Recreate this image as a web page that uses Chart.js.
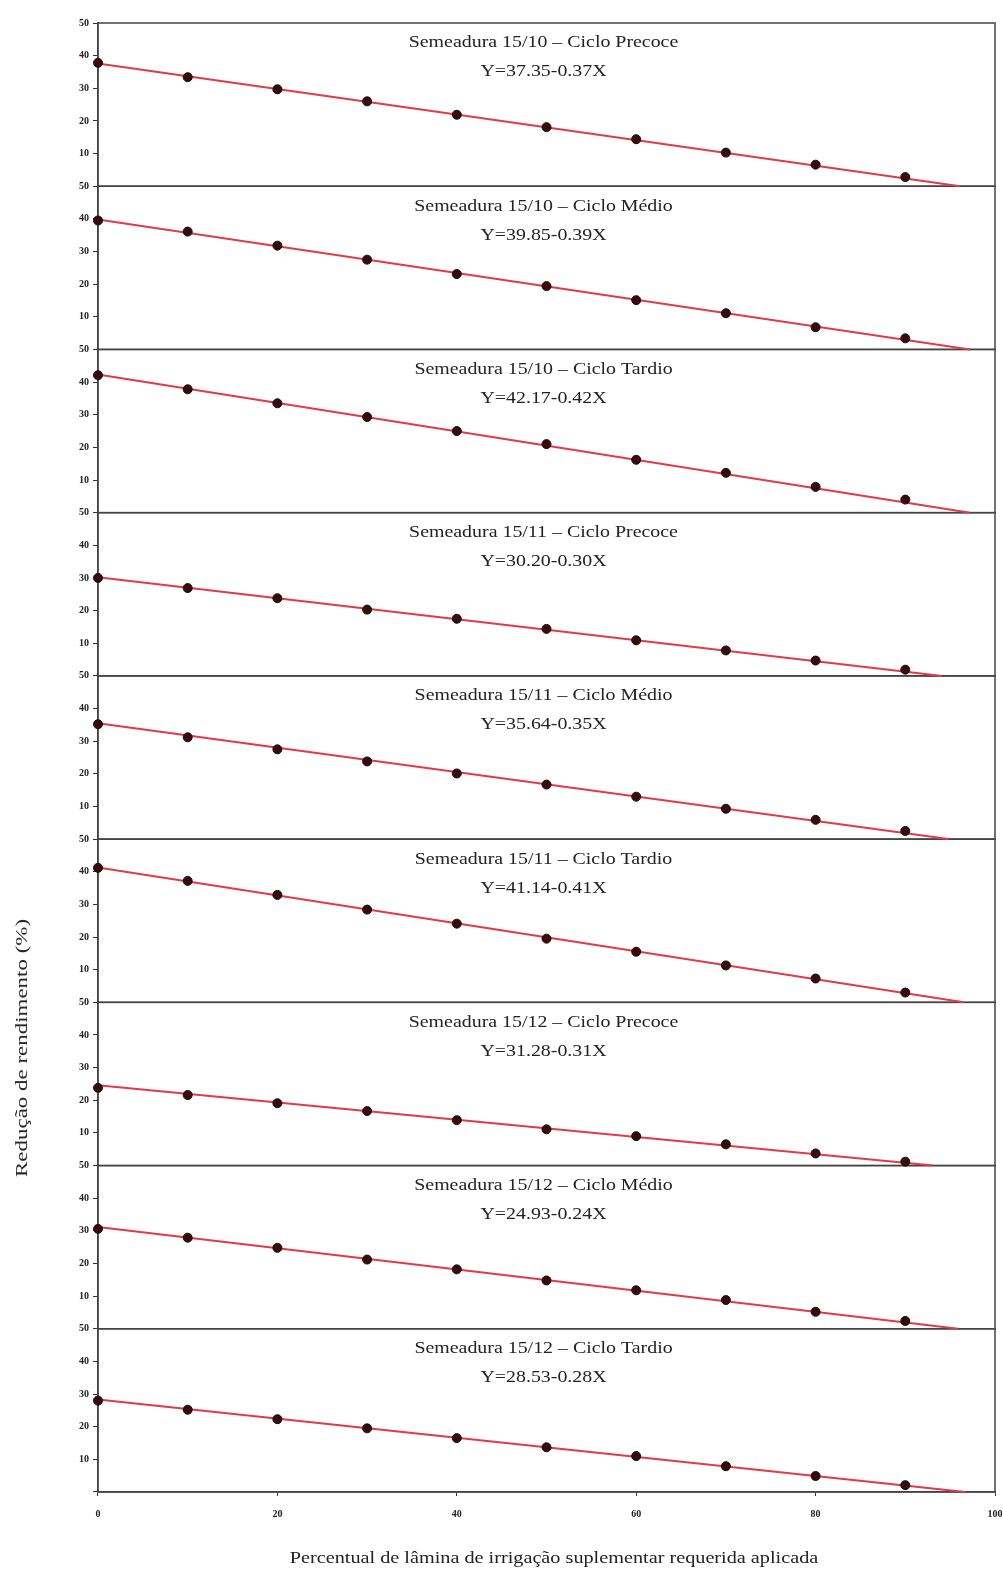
<!DOCTYPE html>
<html>
<head>
<meta charset="utf-8">
<script src="https://cdn.jsdelivr.net/npm/chart.js@4.4.1/dist/chart.umd.min.js"></script>
<style>
  body { margin: 0; background: #fff; }
  #wrap { position: relative; width: 1003px; height: 1573px; }
  .ttl { position: absolute; font-family: "Liberation Serif", serif; font-size: 17px; color: #222; white-space: nowrap; }
  #ytitle { left: 22px; top: 1048px; transform: translate(-50%, -50%) rotate(-90deg) scaleX(1.35); }
  #xtitle { left: 554px; top: 1558px; transform: translate(-50%, -50%) scaleX(1.19); }
</style>
</head>
<body>
<div id="wrap">
  <canvas id="painelChart" width="1003" height="1573"></canvas>
  <div class="ttl" id="ytitle">Redução de rendimento (%)</div>
  <div class="ttl" id="xtitle">Percentual de lâmina de irrigação suplementar requerida aplicada</div>
</div>
<script>
var laminas = [0, 10, 20, 30, 40, 50, 60, 70, 80, 90];
var xTicks = [0, 20, 40, 60, 80, 100];
var yTicks = [0, 10, 20, 30, 40, 50];

var titulos = [
  'Semeadura 15/10 – Ciclo Precoce',
  'Semeadura 15/10 – Ciclo Médio',
  'Semeadura 15/10 – Ciclo Tardio',
  'Semeadura 15/11 – Ciclo Precoce',
  'Semeadura 15/11 – Ciclo Médio',
  'Semeadura 15/11 – Ciclo Tardio',
  'Semeadura 15/12 – Ciclo Precoce',
  'Semeadura 15/12 – Ciclo Médio',
  'Semeadura 15/12 – Ciclo Tardio'
];
var equacoes = [
  'Y=37.35-0.37X', 'Y=39.85-0.39X', 'Y=42.17-0.42X',
  'Y=30.20-0.30X', 'Y=35.64-0.35X', 'Y=41.14-0.41X',
  'Y=31.28-0.31X', 'Y=24.93-0.24X', 'Y=28.53-0.28X'
];

// reducao de rendimento observada (%)
var out10Precoce = [37.8, 33.4, 29.7, 26.0, 21.9, 18.1, 14.4, 10.3, 6.6, 2.8];
var out10Medio   = [39.5, 36.1, 31.8, 27.5, 23.1, 19.4, 15.1, 11.1, 6.8, 3.4];
var out10Tardio  = [42.1, 37.8, 33.5, 29.3, 25.0, 21.0, 16.2, 12.2, 7.9, 4.0];
var nov11Precoce = [30.0, 26.9, 23.8, 20.3, 17.5, 14.4, 10.9, 7.8, 4.7, 1.9];
var nov11Medio   = [35.2, 31.2, 27.5, 23.8, 20.1, 16.7, 13.0, 9.3, 5.9, 2.5];
var nov11Tardio  = [41.2, 37.2, 32.9, 28.4, 24.1, 19.5, 15.5, 11.3, 7.3, 3.0];
var dez12Precoce = [23.8, 21.6, 19.1, 16.7, 13.9, 11.1, 9.0, 6.5, 3.7, 1.2];
var dez12Medio   = [30.6, 27.9, 24.8, 21.2, 18.2, 14.8, 11.8, 8.8, 5.2, 2.4];
var dez12Tardio  = [28.0, 25.2, 22.3, 19.5, 16.5, 13.7, 11.0, 7.9, 4.9, 2.1];

var series = [out10Precoce, out10Medio, out10Tardio, nov11Precoce, nov11Medio,
              nov11Tardio, dez12Precoce, dez12Medio, dez12Tardio];

// reta ajustada: valor em x=0 e ponto onde chega a zero
var retaInicio = [37.6, 39.8, 42.3, 30.2, 35.5, 41.3, 24.6, 31.2, 28.3];
var retaFim    = [96.1, 97.2, 97.2, 94.1, 94.8, 96.5, 93.1, 95.9, 96.7];

var datasets = [];
var scales = {
  x: {
    type: 'linear', min: 0, max: 100,
    afterBuildTicks: function(s) { s.ticks = xTicks.map(function(v) { return {value: v}; }); },
    grid: { display: true, drawOnChartArea: false, drawTicks: true, tickLength: 4, color: '#333' },
    border: { display: true, color: '#444', width: 1.5 },
    ticks: { color: '#222', padding: 12, font: { family: 'Liberation Serif', size: 10, weight: 'bold' } },
    afterFit: function(s) { s.height = 81; s.paddingLeft = 0; s.paddingRight = 0; }
  }
};

// the stacked axes are laid out bottom-up, so define the last panel first
for (var j = series.length - 1; j >= 0; j--) {
  scales['y' + j] = {
    type: 'linear', position: 'left', stack: 'paineis', stackWeight: 1,
    min: 0, max: 50,
    afterBuildTicks: function(s) { s.ticks = yTicks.map(function(v) { return {value: v}; }); },
    grid: { display: true, drawOnChartArea: false, drawTicks: true, tickLength: 5, color: '#333' },
    border: { display: true, color: '#444', width: 1.5 },
    ticks: {
      color: '#222', padding: 4,
      font: { family: 'Liberation Serif', size: 10, weight: 'bold' },
      callback: function(v) { return v === 0 ? '' : v; }
    },
    afterFit: function(s) { s.width = 98; }
  };
}

series.forEach(function(vals, i) {
  var id = 'y' + i;
  datasets.push({
    label: titulos[i],
    yAxisID: id,
    data: laminas.map(function(x, k) { return {x: x, y: vals[k]}; }),
    pointRadius: 4.5,
    pointBackgroundColor: '#3a0a0a',
    pointBorderColor: '#111',
    pointBorderWidth: 1,
    showLine: false,
    order: 0,
    clip: false
  });
  datasets.push({
    label: equacoes[i],
    yAxisID: id,
    data: [{x: 0, y: retaInicio[i]}, {x: retaFim[i], y: 0}],
    showLine: true,
    borderColor: '#e23a46',
    borderWidth: 2,
    pointRadius: 0,
    order: 1,
    clip: false
  });
});

var molduras = {
  id: 'molduras',
  beforeDatasetsDraw: function(chart) {
    var ctx = chart.ctx, a = chart.chartArea;
    ctx.save();
    ctx.strokeStyle = '#444';
    ctx.lineWidth = 1.5;
    for (var i = 0; i < series.length; i++) {
      var s = chart.scales['y' + i];
      ctx.strokeRect(a.left, s.top, a.right - a.left, s.bottom - s.top);
    }
    ctx.restore();
  },
  afterDatasetsDraw: function(chart) {
    var ctx = chart.ctx, a = chart.chartArea;
    var cx = (a.left + a.right) / 2 - 3;
    ctx.save();
    ctx.fillStyle = '#222';
    ctx.font = '17px "Liberation Serif"';
    ctx.textAlign = 'center';
    ctx.textBaseline = 'middle';
    for (var i = 0; i < series.length; i++) {
      var s = chart.scales['y' + i];
      [[titulos[i], 20], [equacoes[i], 49]].forEach(function(t) {
        ctx.save();
        ctx.translate(cx, s.top + t[1]);
        ctx.scale(1.17, 1);
        ctx.fillText(t[0], 0, 0);
        ctx.restore();
      });
    }
    ctx.restore();
  }
};

var ctx = document.getElementById('painelChart').getContext('2d');
var painelChart = new Chart(ctx, {
  type: 'scatter',
  data: { datasets: datasets },
  options: {
    responsive: false,
    animation: false,
    devicePixelRatio: 1,
    layout: { padding: { left: 0, right: 8, top: 23, bottom: 0 } },
    plugins: { legend: { display: false }, tooltip: { enabled: false }, title: { display: false } },
    scales: scales
  },
  plugins: [molduras]
});
</script>
</body>
</html>
